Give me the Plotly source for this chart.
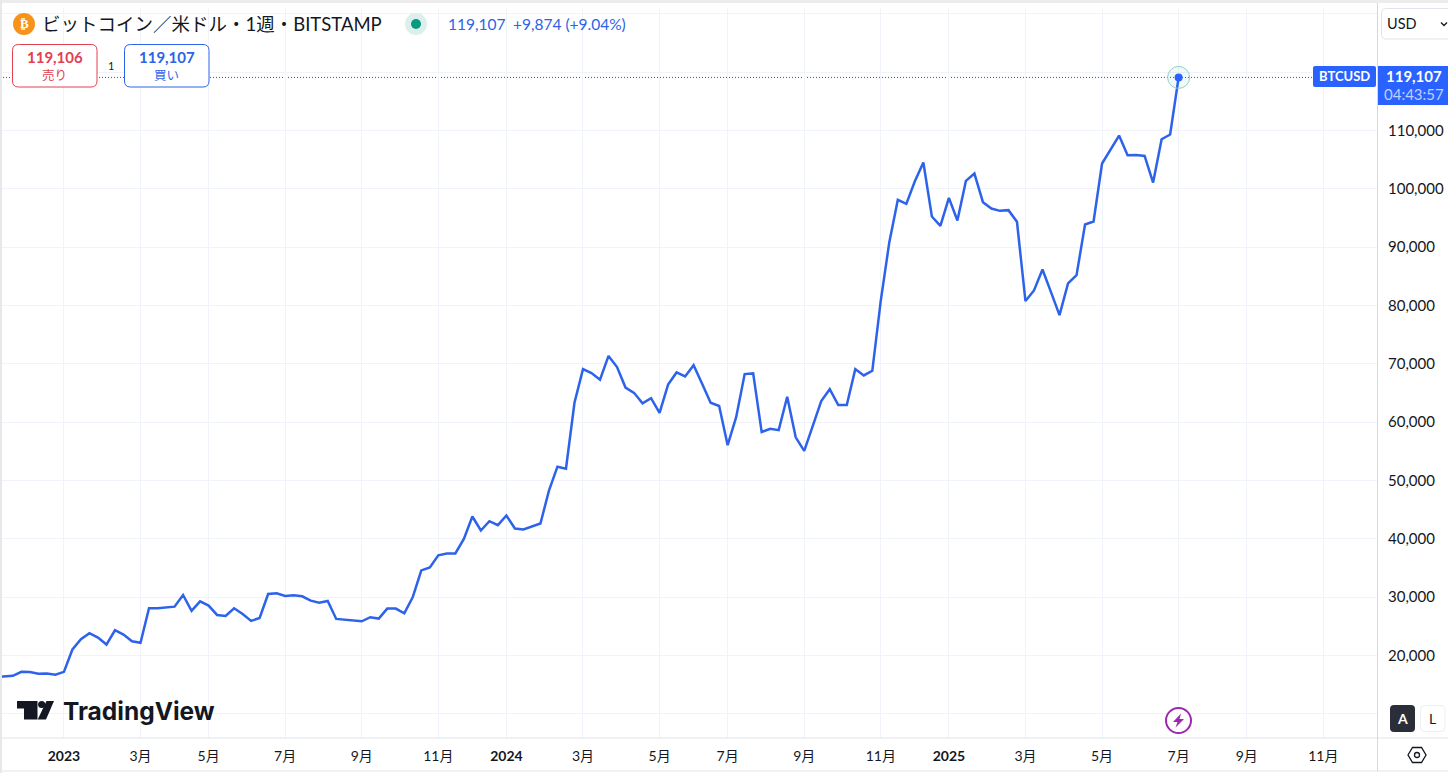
import pandas as pd
import plotly.graph_objects as go

W, H = 1448, 773
PLOT_RIGHT, PLOT_TOP, PLOT_BOTTOM = 1378, 8, 738

# 週足の終値（2022-11-07 から）
first_week = "2022-11-07"
closes = [
    16300, 16350, 16520, 17200, 17150, 16870, 16920, 16700, 17200, 21030,
    22800, 23820, 23080, 21880, 24330, 23590, 22450, 22170, 28100, 28100,
    28270, 28380, 30370, 27640, 29290, 28550, 26950, 26780, 28100, 27130,
    25930, 26440, 30550, 30660, 30200, 30320, 30150, 29400, 29060, 29350,
    26270, 26160, 26040, 25870, 26560, 26330, 28040, 28040, 27240, 30030,
    34590, 35100, 37160, 37500, 37500, 40000, 43830, 41430, 43030, 42340,
    44000, 41770, 41600, 42120, 42630, 48270, 52370, 52030, 63330, 69100,
    68420, 67290, 71360, 69440, 65930, 65030, 63220, 64120, 61580, 66440,
    68530, 67850, 69770, 66600, 63330, 62770, 56050, 60850, 68250, 68360,
    58300, 58870, 58640, 64350, 57400, 55080, 59270, 63620, 65650, 62940,
    62940, 69100, 68020, 68810, 80870, 90860, 98120, 97430, 101310, 104510,
    95260, 93660, 98460, 94580, 101370, 102630, 97720, 96630, 96230, 96350,
    94350, 80760, 82580, 86180, 82300, 78360, 83780, 85210, 93890, 94400,
    104340, 106740, 109140, 105770, 105820, 105650, 101080, 108510, 109310, 119107,
]
weeks = pd.date_range(first_week, periods=len(closes), freq="W-MON")

x_tick_dates = ["2023-01-02", "2023-03-06", "2023-05-01", "2023-07-03", "2023-09-04", "2023-11-06",
                "2024-01-01", "2024-03-04", "2024-05-06", "2024-07-01", "2024-09-02", "2024-11-04",
                "2024-12-30", "2025-03-03", "2025-05-05", "2025-07-07", "2025-09-01", "2025-11-03"]
x_tick_text = ["<b>2023</b>", "3月", "5月", "7月", "9月", "11月",
               "<b>2024</b>", "3月", "5月", "7月", "9月", "11月",
               "<b>2025</b>", "3月", "5月", "7月", "9月", "11月"]
y_tick_vals = [10000, 20000, 30000, 40000, 50000, 60000, 70000, 80000, 90000, 100000, 110000, 120000, 130000]
y_tick_text = ["", "20,000", "30,000", "40,000", "50,000", "60,000", "70,000", "80,000", "90,000",
               "100,000", "110,000", "120,000", ""]

BLUE = "#2d62ea"
INK = "#131722"
GRID = "#f0f3fa"
EDGE = "#e0e3eb"
RED = "#e2404f"
FONT = "Lato, Noto Sans CJK JP"


def px(x):
    return x / W


def py(y):
    return 1 - y / H


def svg(points):
    # ピクセル座標の折れ線を paper 座標の path に
    return "M" + " L".join(f"{px(a):.5f},{py(b):.5f}" for a, b in points) + " Z"


def box(x0, y0, x1, y1, fill, line=None, layer="above"):
    return dict(type="rect", xref="paper", yref="paper", x0=px(x0), x1=px(x1), y0=py(y0), y1=py(y1),
                fillcolor=fill, line=dict(color=line or fill, width=1 if line else 0), layer=layer)


def round_box(x0, y0, x1, y1, r, fill, line=None):
    xa, xb, ya, yb = px(x0), px(x1), py(y0), py(y1)
    rx, ry = r / W, r / H
    path = (f"M{xa + rx},{ya} L{xb - rx},{ya} Q{xb},{ya} {xb},{ya - ry} L{xb},{yb + ry} Q{xb},{yb} {xb - rx},{yb} "
            f"L{xa + rx},{yb} Q{xa},{yb} {xa},{yb + ry} L{xa},{ya - ry} Q{xa},{ya} {xa + rx},{ya} Z")
    return dict(type="path", xref="paper", yref="paper", path=path, fillcolor=fill,
                line=dict(color=line or fill, width=1 if line else 0), layer="above")


def disc(cx, cy, r, fill, line=None, width=1):
    return dict(type="circle", xref="paper", yref="paper", x0=px(cx - r), x1=px(cx + r), y0=py(cy - r), y1=py(cy + r),
                fillcolor=fill, line=dict(color=line or fill, width=width if line else 0), layer="above")


def poly(points, fill, line=None, width=1):
    return dict(type="path", xref="paper", yref="paper", path=svg(points), fillcolor=fill,
                line=dict(color=line or fill, width=width if line else 0), layer="above")


def label(x, y, text, size=13, color=INK, anchor="left", family=FONT):
    return dict(xref="paper", yref="paper", x=px(x), y=py(y), text=text, showarrow=False,
                xanchor=anchor, yanchor="middle", align=anchor, borderpad=0,
                font=dict(size=size, color=color, family=family))


fig = go.Figure()
fig.add_trace(go.Scatter(x=weeks, y=closes, mode="lines", line=dict(color=BLUE, width=2.5), hoverinfo="skip"))
fig.add_trace(go.Scatter(x=[weeks[-1]], y=[closes[-1]], mode="markers",
                         marker=dict(size=22, color="rgba(8,153,129,0.05)", line=dict(color="#8fd0c6", width=1)),
                         hoverinfo="skip"))
fig.add_trace(go.Scatter(x=[weeks[-1]], y=[closes[-1]], mode="markers",
                         marker=dict(size=8, color="#2962ff"), hoverinfo="skip"))

shapes = [
    # 現在値の点線
    dict(type="line", xref="paper", yref="y", x0=0, x1=px(PLOT_RIGHT), y0=closes[-1], y1=closes[-1],
         line=dict(color="#2f4fa8", width=1, dash="1px,2px"), layer="below"),
    # 枠
    box(0, 0, W, 3, "#ececec"),
    box(0, 0, 2, H, "#e8e8e8"),
    box(2, 737.5, W, 738.5, EDGE),
    box(2, 770.5, W, 771.5, EDGE),
    box(1377, 3, 1378, 771, "#d6d8de"),
    # 売買ボタン
    round_box(12.5, 44.5, 97, 87, 6, "white", RED),
    round_box(124.5, 44.5, 209, 87, 6, "white", BLUE),
    # シンボル
    disc(24, 24, 11, "#f7931a"),
    disc(416, 24, 11, "#dcefeb"),
    disc(416, 24, 5, "#089981"),
    # 右パネル
    round_box(1381.5, 8.5, 1460, 39, 5, "white", EDGE),
    dict(type="path", xref="paper", yref="paper", layer="above", line=dict(color=INK, width=1.3),
         path=f"M{px(1441)},{py(22.5)} L{px(1444)},{py(25.5)} L{px(1447)},{py(22.5)}"),
    box(1378, 66, W, 105, "#2962ff"),
    round_box(1313, 66, 1376, 87, 2, "#2962ff"),
    # A / L
    round_box(1390, 705, 1415, 732, 4, "#2a2e39"),
    round_box(1420.5, 705.5, 1445, 731.5, 4, "white", "#eceef2"),
    # 設定
    poly([(1408, 755), (1412.5, 747.5), (1421.5, 747.5), (1426, 755), (1421.5, 762.5), (1412.5, 762.5)],
         "white", INK, 1.3),
    disc(1417, 755, 2.5, "white", INK, 1.3),
    # 稲妻
    disc(1178.5, 720.5, 12.5, "white", "#9c27b0", 2),
    poly([(1181, 713.5), (1173, 722), (1177.5, 722), (1175.5, 727.5), (1184, 719), (1179.5, 719)], "#9c27b0"),
    # ロゴ
    poly([(17, 701), (37.5, 701), (37.5, 719.5), (24, 719.5), (24, 708.5), (17, 708.5)], INK),
    disc(41.7, 704.5, 3.6, INK),
    poly([(46.5, 701), (54, 701), (46, 719.5), (37.7, 719.5)], INK),
]

annotations = [
    label(24, 24, "<b>₿</b>", 13, "white", "center", "DejaVu Sans"),
    label(41, 24, "ビットコイン／米ドル・1週・BITSTAMP", 18.5),
    label(447, 24, "119,107", 15.5, BLUE),
    label(512, 24, "+9,874 (+9.04%)", 15.5, BLUE),
    label(54.5, 57.5, "<b>119,106</b>", 15, RED, "center"),
    label(54.5, 75.5, "売り", 12.5, RED, "center"),
    label(111, 65, "1", 11, INK, "center"),
    label(166.5, 57.5, "<b>119,107</b>", 15, BLUE, "center"),
    label(166.5, 75.5, "買い", 12.5, BLUE, "center"),
    label(1386, 24, "USD", 14.5),
    label(1344.5, 76.5, "<b>BTCUSD</b>", 13, "white", "center"),
    label(1414, 76, "<b>119,107</b>", 15, "white", "center"),
    label(1414, 94, "04:43:57", 15, "#c0cfff", "center"),
    label(1402.5, 718, "<b>A</b>", 14, "white", "center"),
    label(1432.5, 718, "L", 14, INK, "center"),
    label(62, 711, "<b>TradingView</b>", 24.5, INK, "left", "Inter"),
]

fig.update_layout(
    width=W, height=H, margin=dict(l=0, r=0, t=0, b=0),
    paper_bgcolor="white", plot_bgcolor="white", showlegend=False,
    font=dict(family=FONT, size=13, color=INK),
    shapes=shapes, annotations=annotations,
    xaxis=dict(domain=[0, px(PLOT_RIGHT)], range=["2022-11-10 10:00", "2025-12-18"], type="date",
               tickmode="array", tickvals=x_tick_dates, ticktext=x_tick_text, tickangle=0,
               showgrid=True, gridcolor=GRID, gridwidth=1, zeroline=False, showline=False, ticks="",
               ticklabelstandoff=8, tickfont=dict(size=14, color=INK)),
    yaxis=dict(domain=[py(PLOT_BOTTOM), py(PLOT_TOP)], range=[5856, 131006], side="right",
               tickmode="array", tickvals=y_tick_vals, ticktext=y_tick_text,
               showgrid=True, gridcolor=GRID, gridwidth=1, zeroline=False, showline=False, ticks="",
               ticklabelstandoff=9, tickfont=dict(size=15, color=INK)),
)

fig.write_html("out.html", config=dict(displayModeBar=False), post_script="document.body.style.margin='0';")
